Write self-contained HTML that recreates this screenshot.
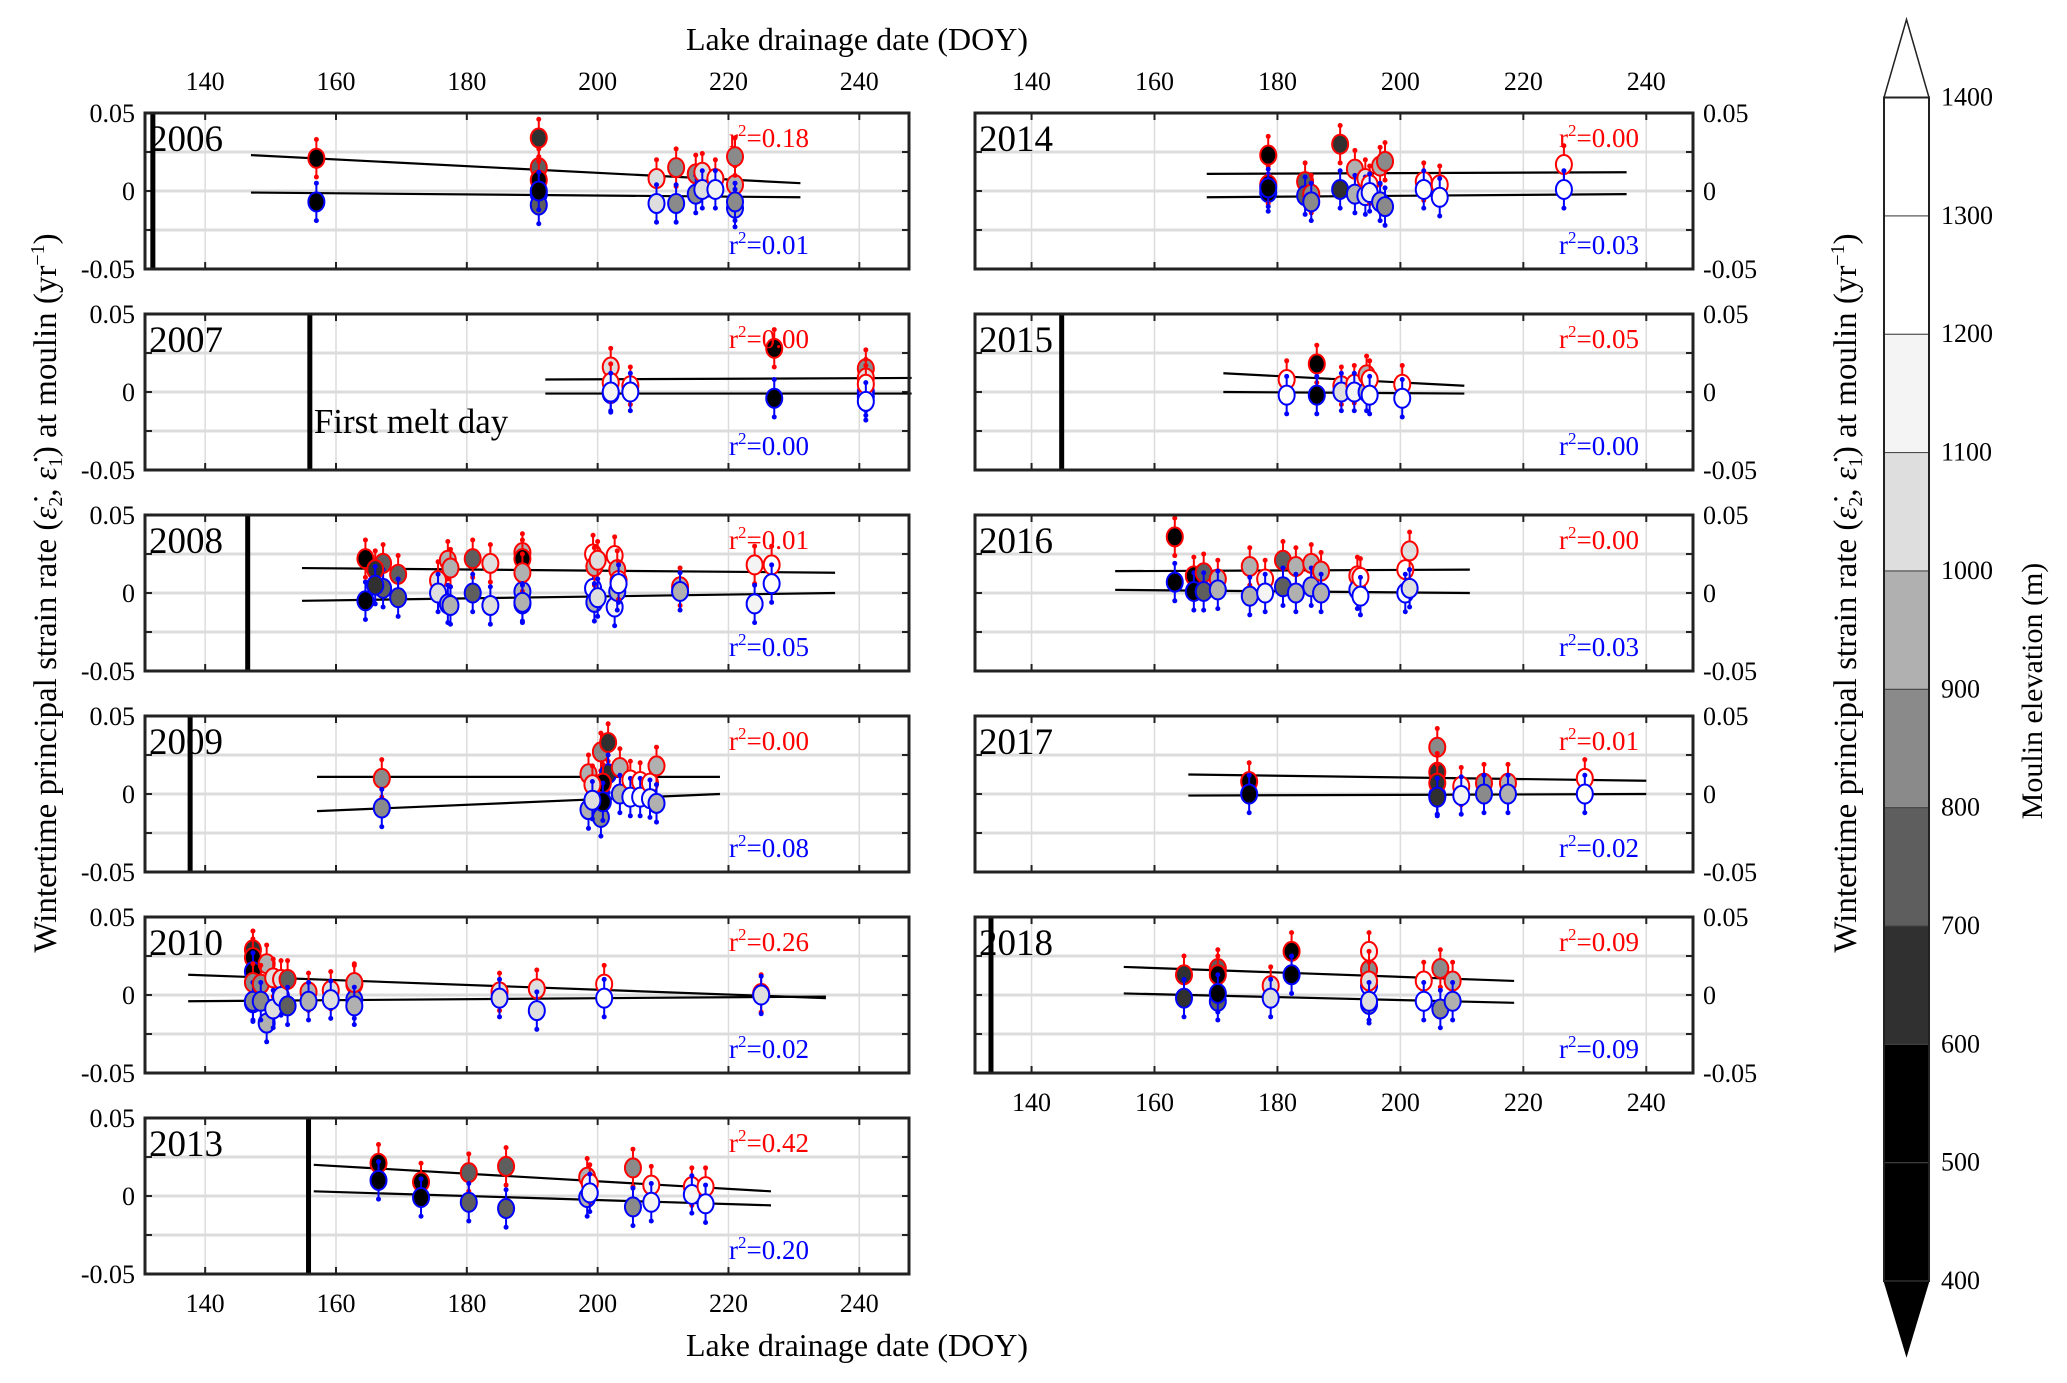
<!DOCTYPE html>
<html><head><meta charset="utf-8">
<style>
html,body{margin:0;padding:0;background:#fff;}
svg{display:block;}
text,tspan{font-family:"Liberation Serif","DejaVu Serif",serif;}
</style></head>
<body>
<svg id="fig" width="2067" height="1383" viewBox="0 0 2067 1383" xmlns="http://www.w3.org/2000/svg" font-family="Liberation Serif, serif"></svg>
<script>
// ---------- DATA ----------
const years = [2006,2007,2008,2009,2010,2013,2014,2015,2016,2017,2018];
const meltDay = {2006:132,2007:156,2008:146.5,2009:137.7,2010:null,2013:155.8,2014:null,2015:144.9,2016:null,2017:null,2018:133.4};
const r2Red = {2006:"0.18",2007:"0.00",2008:"0.01",2009:"0.00",2010:"0.26",2013:"0.42",2014:"0.00",2015:"0.05",2016:"0.00",2017:"0.01",2018:"0.09"};
const r2Blue = {2006:"0.01",2007:"0.00",2008:"0.05",2009:"0.08",2010:"0.02",2013:"0.20",2014:"0.03",2015:"0.00",2016:"0.03",2017:"0.02",2018:"0.09"};
// fit lines: [doyStart, doyEnd, valStart, valEnd]
const fitRed = {2006:[147,231,0.023,0.005],2007:[192,248,0.008,0.009],2008:[154.8,236.3,0.016,0.013],2009:[157.1,218.7,0.011,0.011],2010:[137.4,234.9,0.013,-0.002],2013:[156.6,226.5,0.020,0.003],2014:[168.5,236.8,0.011,0.012],2015:[171.2,210.4,0.012,0.004],2016:[153.6,211.3,0.014,0.015],2017:[165.5,240,0.0125,0.0085],2018:[155,218.5,0.018,0.009]};
const fitBlue = {2006:[147,231,-0.001,-0.004],2007:[192,248,-0.001,-0.001],2008:[154.8,236.3,-0.005,0.000],2009:[157.1,218.7,-0.011,0.000],2010:[137.4,234.9,-0.004,-0.001],2013:[156.6,226.5,0.003,-0.006],2014:[168.5,236.8,-0.004,-0.002],2015:[171.2,210.4,0,-0.001],2016:[153.6,211.3,0.002,0],2017:[165.5,240,-0.001,0],2018:[155,218.5,0.001,-0.005]};
const doy = {
2006:[157,191,191,191,209,212,215,216,218,221,221],
2007:[202,202,205,227,241,241,241],
2008:[164.5,167.2,169.5,166,175.6,177.1,177.5,180.9,183.6,188.5,188.5,188.5,199.3,199.5,200,202.6,203,203.2,212.6,224,226.6],
2009:[167,198.6,200.5,201.6,200.8,203.4,205,206.5,208,209,199.2],
2010:[147.3,147.3,147.3,149.4,148.5,150.4,151.6,152.6,155.8,159.2,162.8,162.8,185,190.7,201,225],
2013:[166.5,173,180.3,186,198.4,198.8,205.4,208.2,214.4,216.5],
2014:[178.5,178.5,184.5,185.5,190.2,192.6,194.3,195,196.7,197.5,203.8,206.4,226.6],
2015:[181.5,186.4,190.4,192.5,194.5,195,200.3],
2016:[163.3,166.4,168,170.3,175.5,178,180.9,183,185.5,187.1,193,193.5,200.8,201.5],
2017:[175.4,206,206,206,209.9,213.6,217.5,230],
2018:[164.8,170.3,170.3,178.9,182.3,194.9,194.9,194.9,203.8,206.5,208.5]
};
const redVal = {
2006:[0.021,0.034,0.015,0.007,0.008,0.015,0.011,0.012,0.008,0.004,0.022],
2007:[0.016,0.006,0.004,0.028,0.015,0.009,0.005],
2008:[0.022,0.019,0.012,0.015,0.008,0.021,0.016,0.022,0.019,0.026,0.022,0.013,0.025,0.017,0.021,0.024,0.015,0.008,0.004,0.018,0.018],
2009:[0.010,0.013,0.027,0.033,0.007,0.017,0.009,0.008,0.007,0.018,0.006],
2010:[0.029,0.024,0.008,0.020,0.007,0.011,0.010,0.010,0.002,0.003,0.007,0.008,0.002,0.004,0.007,0.001],
2013:[0.021,0.009,0.015,0.019,0.012,0.008,0.018,0.007,0.006,0.006],
2014:[0.023,0.004,0.006,-0.002,0.030,0.014,0.008,0.004,0.016,0.019,0.006,0.004,0.017],
2015:[0.008,0.018,0.004,0.005,0.011,0.008,0.005],
2016:[0.036,0.011,0.013,0.009,0.017,0.009,0.021,0.017,0.019,0.014,0.011,0.010,0.015,0.027],
2017:[0.008,0.030,0.014,0.007,0.005,0.007,0.007,0.010],
2018:[0.013,0.017,0.013,0.006,0.028,0.028,0.016,0.009,0.009,0.017,0.009]
};
const blueVal = {
2006:[-0.007,-0.002,-0.009,0.000,-0.008,-0.008,-0.002,0.001,0.001,-0.011,-0.007],
2007:[-0.001,0.000,0.000,-0.004,0.000,-0.003,-0.006],
2008:[-0.005,0.003,-0.003,0.005,0.000,-0.007,-0.008,0.000,-0.008,0.001,-0.007,-0.006,0.003,-0.006,-0.003,-0.009,0.001,0.006,0.001,-0.007,0.006],
2009:[-0.009,-0.010,-0.015,0.013,-0.005,0.000,-0.002,-0.002,-0.003,-0.006,-0.004],
2010:[-0.005,0.015,-0.004,-0.018,-0.004,-0.009,-0.001,-0.007,-0.004,-0.003,-0.003,-0.007,-0.002,-0.010,-0.002,0.000],
2013:[0.010,-0.001,-0.004,-0.008,-0.001,0.002,-0.007,-0.004,0.001,-0.005],
2014:[-0.001,0.002,-0.003,-0.007,0.001,-0.002,-0.003,-0.001,-0.007,-0.010,0.001,-0.004,0.001],
2015:[-0.002,-0.002,0.000,0.000,0.000,-0.002,-0.004],
2016:[0.007,0.001,0.001,0.002,-0.002,0.000,0.004,0.000,0.004,0.000,0.002,-0.002,0.000,0.003],
2017:[0.000,-0.001,-0.001,-0.002,-0.001,0.000,0.000,0.000],
2018:[-0.002,-0.004,0.001,-0.002,0.013,0.006,-0.006,-0.004,-0.004,-0.009,-0.004]
};
const elev = {
2006:[500,650,750,550,1050,800,850,1050,1100,900,850],
2007:[1050,1100,1300,500,850,1000,1300],
2008:[500,700,750,650,1000,950,900,750,1000,900,500,950,1300,900,1000,1100,950,1300,950,1150,1200],
2009:[850,900,800,650,500,900,1200,1300,1100,900,1000],
2010:[650,500,850,950,800,1000,1000,750,950,1000,850,900,1000,1050,1200,1000],
2013:[500,500,750,750,900,1100,850,1100,1150,1300],
2014:[500,550,700,850,600,900,1000,1100,900,850,1300,1300,1300],
2015:[1200,500,1050,1100,900,1300,1300],
2016:[550,500,700,900,900,1100,750,900,900,950,1050,1300,1300,1000],
2017:[500,800,650,650,1100,850,900,1300],
2018:[600,750,500,1000,500,1100,850,1000,1300,800,900]
};
const xTicks = [140,160,180,200,220,240];
const yTicks = [-0.05,0,0.05];
const yTickLabels = ["-0.05","0","0.05"];
const cbLevels = [400,500,600,700,800,900,1000,1100,1200,1300,1400];
const cbColors = ["#000","#000","#303030","#5e5e5e","#8a8a8a","#b0b0b0","#dedede","#f4f4f4","#fff","#fff"];
const ERR = 0.012;

// ---------- LAYOUT ----------
const NS="http://www.w3.org/2000/svg";
const svg=document.getElementById('fig');
const XMIN=130.8, XMAX=247.6, YMIN=-0.05, YMAX=0.05;
const rowTop=[113,314,515,716,917,1118], PH=156;
const cols=[{x0:145,x1:909},{x0:975,x1:1693}];
const placement={2006:[0,0],2007:[0,1],2008:[0,2],2009:[0,3],2010:[0,4],2013:[0,5],2014:[1,0],2015:[1,1],2016:[1,2],2017:[1,3],2018:[1,4]};
function mk(tag,attrs,parent){const e=document.createElementNS(NS,tag);for(const k in attrs)e.setAttribute(k,attrs[k]);if(tag==='text')e.setAttribute('font-family','Liberation Serif, serif');(parent||svg).appendChild(e);return e;}
function colorFor(z){for(let i=0;i<cbLevels.length-1;i++){if(z<cbLevels[i+1])return cbColors[i];}return "#fff";}

years.forEach(yr=>{
  const [c,r]=placement[yr]; const col=cols[c]; const top=rowTop[r], bot=top+PH;
  const sx=d=>col.x0+(d-XMIN)/(XMAX-XMIN)*(col.x1-col.x0);
  const sy=v=>bot-(v-YMIN)/(YMAX-YMIN)*PH;
  const g=mk('g',{});
  
  
  xTicks.forEach(t=>{const l=mk('line',{x1:sx(t),x2:sx(t),y1:top,y2:bot,stroke:'#dcdcdc','stroke-width':1.5},g);
    
    mk('line',{x1:sx(t),x2:sx(t),y1:bot,y2:bot-7,stroke:'#222','stroke-width':2},g);
    mk('line',{x1:sx(t),x2:sx(t),y1:top,y2:top+7,stroke:'#222','stroke-width':2},g);});
  [-0.025,0,0.025].forEach(t=>{const l=mk('line',{x1:col.x0,x2:col.x1,y1:sy(t),y2:sy(t),stroke:'#dcdcdc','stroke-width':3},g);
    
    mk('line',{x1:col.x0,x2:col.x0+7,y1:sy(t),y2:sy(t),stroke:'#222','stroke-width':2},g);
    mk('line',{x1:col.x1,x2:col.x1-7,y1:sy(t),y2:sy(t),stroke:'#222','stroke-width':2},g);});
  if(meltDay[yr]!==null){const m=mk('line',{x1:sx(meltDay[yr]),x2:sx(meltDay[yr]),y1:top,y2:bot,stroke:'#000','stroke-width':5},g);
    }
  [fitRed[yr],fitBlue[yr]].forEach((f,i)=>{const l=mk('line',{x1:sx(f[0]),x2:sx(f[1]),y1:sy(f[2]),y2:sy(f[3]),stroke:'#000','stroke-width':2.2},g);
    });
  const d=doy[yr];
  d.forEach((x,i)=>{
    const fill=colorFor(elev[yr][i]);
    [[redVal[yr][i],'#ff0000','e2'],[blueVal[yr][i],'#0000ff','e1']].forEach(([v,cl,nm])=>{
      mk('line',{x1:sx(x),x2:sx(x),y1:sy(v-ERR),y2:sy(v+ERR),stroke:cl,'stroke-width':2},g);
      mk('circle',{cx:sx(x),cy:sy(v+ERR),r:2.5,fill:cl},g);
      mk('circle',{cx:sx(x),cy:sy(v-ERR),r:2.5,fill:cl},g);
      const p=mk('ellipse',{cx:sx(x),cy:sy(v),rx:8,ry:9.5,fill:fill,stroke:cl,'stroke-width':2},g);
      
      
    });
  });
  const fr=mk('rect',{x:col.x0,y:top,width:col.x1-col.x0,height:PH,fill:'none',stroke:'#222','stroke-width':3},g);
  
  const yl=mk('text',{x:col.x0+4,y:top+38,'font-size':37,fill:'#000'},g);yl.textContent=yr;
  
  const rx=c===0?729:1559;
  const tr=mk('text',{x:rx,y:top+34,'font-size':27,fill:'#ff0000'},g);
  tr.innerHTML='r<tspan dy="-11" font-size="17">2</tspan><tspan dy="11">='+r2Red[yr]+'</tspan>';
  
  const tb=mk('text',{x:rx,y:bot-15,'font-size':27,fill:'#0000ff'},g);
  tb.innerHTML='r<tspan dy="-11" font-size="17">2</tspan><tspan dy="11">='+r2Blue[yr]+'</tspan>';
  
  yTicks.forEach((t,i)=>{
    const tx=c===0?mk('text',{x:col.x0-10,y:sy(t)+9,'font-size':26,'text-anchor':'end'},g):mk('text',{x:col.x1+10,y:sy(t)+9,'font-size':26,'text-anchor':'start'},g);
    tx.textContent=yTickLabels[i];
    
  });
  const topRow=r===0, botRow=(c===0&&r===5)||(c===1&&r===4);
  xTicks.forEach(t=>{
    if(topRow){const tx=mk('text',{x:sx(t),y:90,'font-size':26,'text-anchor':'middle'},g);tx.textContent=t;
      }
    if(botRow){const tx=mk('text',{x:sx(t),y:bot+38,'font-size':26,'text-anchor':'middle'},g);tx.textContent=t;
      }
  });
  if(yr===2007){const t=mk('text',{x:sx(meltDay[yr])+4,y:top+119,'font-size':35},g);t.textContent='First melt day';
    }
});

let t;
t=mk('text',{x:857,y:50,'font-size':32,'text-anchor':'middle'});t.textContent='Lake drainage date (DOY)';

t=mk('text',{x:857,y:1356,'font-size':32,'text-anchor':'middle'});t.textContent='Lake drainage date (DOY)';

const ylab='Wintertime principal strain rate (<tspan font-style="italic">ε̇</tspan><tspan font-size="20" dy="6">2</tspan><tspan dy="-6">, </tspan><tspan font-style="italic">ε̇</tspan><tspan font-size="20" dy="6">1</tspan><tspan dy="-6">) at moulin (yr</tspan><tspan font-size="20" dy="-12">−1</tspan><tspan dy="12">)</tspan>';
t=mk('text',{x:0,y:0,'font-size':33,'text-anchor':'middle',transform:'translate(56,593) rotate(-90)'});t.innerHTML=ylab;

t=mk('text',{x:0,y:0,'font-size':33,'text-anchor':'middle',transform:'translate(1856,593) rotate(-90)'});t.innerHTML=ylab;


const cbX0=1884,cbX1=1929,cbTop=97.5,cbBot=1281;
const cy=z=>cbBot-(z-400)/(1000)*(cbBot-cbTop);
const cb=mk('g',{});
for(let i=0;i<cbColors.length;i++){
  const r=mk('rect',{x:cbX0,y:cy(cbLevels[i+1]),width:cbX1-cbX0,height:cy(cbLevels[i])-cy(cbLevels[i+1]),fill:cbColors[i],stroke:'#444','stroke-width':1},cb);
  
}
mk('polygon',{points:`${cbX0},${cbTop} ${cbX1},${cbTop} ${(cbX0+cbX1)/2},19.5`,fill:'#fff',stroke:'#222','stroke-width':1.5},cb);
mk('polygon',{points:`${cbX0},${cbBot} ${cbX1},${cbBot} ${(cbX0+cbX1)/2},1356`,fill:'#000',stroke:'#000','stroke-width':1},cb);
mk('rect',{x:cbX0,y:cbTop,width:cbX1-cbX0,height:cbBot-cbTop,fill:'none',stroke:'#222','stroke-width':2},cb);
cbLevels.forEach(z=>{const tx=mk('text',{x:1941,y:cy(z)+8,'font-size':26},cb);tx.textContent=z;
  });
t=mk('text',{x:0,y:0,'font-size':30,'text-anchor':'middle',transform:'translate(2042,691) rotate(-90)'});t.textContent='Moulin elevation (m)';

</script>
</body></html>
